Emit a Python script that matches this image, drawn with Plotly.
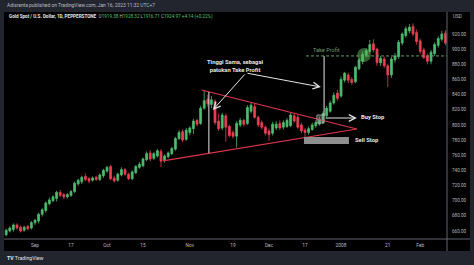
import pandas as pd
import plotly.graph_objects as go

# Daily sessions (weekdays, Christmas and New Year closed)
holidays = ["2007-12-25", "2008-01-01"]
sessions = [d for d in pd.bdate_range("2007-08-22", "2008-02-12").strftime("%Y-%m-%d")
            if d not in holidays]

opens = [655, 660, 662, 668, 665, 661, 666, 664, 671, 673, 682, 687, 696, 700, 703, 711,
         708, 705, 707, 712, 722, 725, 732, 729, 727, 731, 728, 733, 739, 745, 730, 727,
         734, 741, 735, 729, 737, 744, 746, 754, 763, 756, 759, 765, 753, 758, 762, 768,
         782, 791, 781, 790, 795, 806, 802, 822, 834, 827, 831, 805, 796, 812, 798, 790,
         785, 800, 806, 802, 818, 824, 810, 803, 797, 792, 789, 796, 802, 797, 798, 799,
         812, 810, 800, 793, 790, 794, 799, 801, 803, 812, 818, 829, 842, 838, 859, 866,
         860, 857, 874, 884, 892, 897, 907, 900, 882, 887, 878, 866, 886, 890, 908, 918,
         924, 930, 922, 911, 899, 891, 884, 894, 905, 913, 921]
highs = [663, 666, 670, 670, 667, 667, 668, 673, 676, 684, 690, 699, 704, 707, 713, 714,
         710, 710, 714, 725, 729, 733, 736, 731, 732, 733, 736, 742, 746, 747, 733, 737,
         744, 743, 737, 740, 747, 751, 757, 765, 767, 764, 768, 768, 761, 765, 771, 784,
         793, 794, 796, 798, 808, 808, 825, 846, 840, 838, 834, 815, 816, 815, 800, 793,
         805, 809, 808, 826, 829, 828, 812, 806, 799, 795, 804, 805, 806, 806, 809, 816,
         815, 813, 803, 796, 798, 803, 806, 811, 818, 825, 832, 843, 846, 864, 870, 869,
         863, 878, 888, 897, 901, 912, 913, 902, 891, 890, 880, 890, 895, 912, 922, 930,
         933, 934, 926, 914, 902, 894, 899, 909, 917, 924, 925]
lows = [653, 658, 659, 662, 658, 659, 661, 662, 668, 670, 679, 684, 694, 698, 699, 705,
        702, 703, 705, 710, 720, 722, 726, 723, 725, 726, 726, 730, 737, 727, 724, 725,
        732, 733, 727, 727, 735, 742, 744, 752, 752, 754, 757, 744, 750, 756, 760, 766,
        780, 777, 779, 786, 788, 798, 800, 820, 824, 822, 800, 792, 793, 778, 784, 782,
        770, 797, 798, 800, 815, 808, 797, 794, 786, 779, 786, 793, 793, 794, 796, 797,
        803, 795, 789, 784, 787, 792, 796, 799, 801, 810, 816, 827, 832, 836, 856, 855,
        853, 855, 872, 880, 889, 894, 896, 878, 878, 875, 850, 862, 882, 887, 905, 915,
        921, 917, 906, 894, 887, 880, 880, 891, 902, 910, 905]
closes = [661, 664, 668, 664, 660, 665, 663, 671, 674, 682, 688, 697, 701, 705, 711, 707,
          705, 708, 712, 723, 727, 731, 728, 726, 730, 728, 734, 740, 744, 729, 726, 735,
          741, 735, 729, 738, 745, 748, 755, 762, 755, 762, 766, 752, 759, 763, 769, 782,
          790, 780, 793, 796, 805, 801, 822, 832, 828, 833, 803, 795, 813, 797, 786, 785,
          802, 806, 801, 823, 826, 810, 800, 797, 789, 787, 801, 801, 796, 803, 806, 813,
          805, 797, 792, 790, 795, 800, 803, 807, 815, 822, 829, 839, 835, 860, 868, 859,
          856, 876, 886, 893, 898, 906, 899, 882, 888, 878, 866, 887, 891, 909, 920, 927,
          929, 920, 910, 897, 889, 884, 896, 906, 914, 920, 908]

tick_dates = ["2007-09-03", "2007-09-17", "2007-10-01", "2007-10-15", "2007-11-01",
              "2007-11-19", "2007-12-03", "2007-12-17", "2008-01-02", "2008-01-21",
              "2008-02-01"]
tick_labels = ["Sep", "17", "Oct", "15", "Nov", "19", "Dec", "17", "2008", "21", "Feb"]
price_ticks = [660, 680, 700, 720, 740, 760, 780, 800, 820, 840, 860, 880, 900, 920]

UP = "#4dbd6e"
DOWN = "#ec3f55"
FRAME = "#22252e"
AXIS_TEXT = "#b8bbc4"
SEP = "#62656f"
WHITE = "#e6e6e6"
TRI = "#e0354b"
TP = "#6e9a6e"

xpos = list(range(len(sessions)))
tick_pos = [sessions.index(d) for d in tick_dates]

fig = go.Figure(go.Candlestick(
    x=xpos, open=opens, high=highs, low=lows, close=closes,
    increasing=dict(line=dict(color=UP, width=0.8), fillcolor=UP),
    decreasing=dict(line=dict(color=DOWN, width=0.8), fillcolor=DOWN),
    hoverinfo="skip", showlegend=False,
))

W, H = 474, 265
L, R, T, B = 4, 27, 12, 26
pw, ph = W - L - R, H - T - B


def px(xp):
    return (xp - L) / pw


def py(yp):
    return (H - B - yp) / ph


shapes = [
    # black chart panel incl. both axis strips
    dict(type="rect", xref="paper", yref="paper", x0=0, x1=px(470), y0=py(251), y1=1,
         fillcolor="black", line_width=0, layer="below"),
    dict(type="line", xref="paper", yref="paper", x0=1, x1=1, y0=py(251), y1=1,
         line=dict(color=SEP, width=1)),
    dict(type="line", xref="paper", yref="paper", x0=0, x1=px(470), y0=0, y1=0,
         line=dict(color=SEP, width=1)),
    # symmetrical triangle
    dict(type="line", x0=54.3, y0=846.1, x1=97.4, y1=794.6, line=dict(color=TRI, width=1.2)),
    dict(type="line", x0=43.6, y0=752.4, x1=97.4, y1=794.6, line=dict(color=TRI, width=1.2)),
    # triangle height, and the same height projected from the breakout
    dict(type="line", x0=56.3, y0=843.4, x1=56.3, y1=762.9, line=dict(color=WHITE, width=1)),
    dict(type="line", x0=88.3, y0=891.0, x1=88.3, y1=811.8, line=dict(color=WHITE, width=1)),
    # take profit level
    dict(type="line", x0=83.3, y0=891.0, x1=122.6, y1=891.0,
         line=dict(color=TP, width=1, dash="3px,2px")),
    dict(type="circle", x0=97.5, x1=101.3, y0=883.0, y1=901.5,
         fillcolor="rgba(90,190,90,0.5)", line_width=0),
    # buy stop / sell stop boxes
    dict(type="rect", x0=86.3, x1=88.3, y0=802.5, y1=813.1,
         fillcolor="rgba(160,160,160,0.35)", line=dict(color="rgba(170,170,170,0.8)", width=1)),
    dict(type="rect", x0=82.7, x1=95.2, y0=774.8, y1=784.1,
         fillcolor="#8e8e8e", line_width=0),
]

ann_font = dict(family="Roboto", color=WHITE)
annotations = [
    dict(xref="paper", yref="paper", x=px(5), y=py(5), xanchor="left", yanchor="middle",
         showarrow=False, font=dict(family="Roboto", size=4.9, color=AXIS_TEXT),
         text="Adisranta published on TradingView.com, Jan 16, 2023 11:32 UTC+7"),
    dict(xref="paper", yref="paper", x=px(7), y=py(16), xanchor="left", yanchor="middle",
         showarrow=False, font=dict(family="Roboto", size=4.6, color=WHITE),
         text=("<b>Gold Spot / U.S. Dollar, 1D, PEPPERSTONE</b>"
               "  <span style='color:#b2b5be'>O</span><span style='color:#53c06f'>1919.38</span>"
               " <span style='color:#b2b5be'>H</span><span style='color:#53c06f'>1928.32</span>"
               " <span style='color:#b2b5be'>L</span><span style='color:#53c06f'>1916.71</span>"
               " <span style='color:#b2b5be'>C</span><span style='color:#53c06f'>1924.97</span>"
               " <span style='color:#53c06f'>+4.14 (+0.22%)</span>")),
    dict(xref="paper", yref="paper", x=px(457), y=py(16), xanchor="center", yanchor="middle",
         showarrow=False, font=dict(family="Roboto", size=4.6, color=AXIS_TEXT), text="USD"),
    dict(xref="paper", yref="paper", x=px(5), y=py(258), xanchor="left", yanchor="middle",
         showarrow=False, font=dict(family="Roboto", size=5.2, color=WHITE),
         text="<b>TV</b> TradingView"),
    # drawing labels
    dict(x=63.6, y=878.0, showarrow=False, xanchor="center", yanchor="middle",
         font=dict(ann_font, size=5.8), text="<b>Tinggi Sama, sebagai<br>patokan Take Profit</b>"),
    dict(x=89.1, y=898.9, showarrow=False, xanchor="center", yanchor="middle",
         font=dict(family="Roboto", size=5.6, color=TP), text="Take Profit"),
    dict(x=98.0, y=810.5, showarrow=False, xanchor="left", yanchor="middle",
         font=dict(ann_font, size=5.8), text="<b>Buy Stop</b>"),
    dict(x=96.3, y=780.1, showarrow=False, xanchor="left", yanchor="middle",
         font=dict(ann_font, size=5.8), text="<b>Sell Stop</b>"),
    # arrows
    dict(x=57.4, y=819.7, ax=66.6, ay=868.5, axref="x", ayref="y", text="", showarrow=True,
         arrowhead=5, arrowsize=1.3, arrowwidth=1, arrowcolor=WHITE),
    dict(x=87.4, y=850.0, ax=66.6, ay=868.5, axref="x", ayref="y", text="", showarrow=True,
         arrowhead=5, arrowsize=1.3, arrowwidth=1, arrowcolor=WHITE),
    dict(x=97.4, y=809.1, ax=88.3, ay=809.1, axref="x", ayref="y", text="", showarrow=True,
         arrowhead=5, arrowsize=1.3, arrowwidth=1, arrowcolor=WHITE),
]

fig.update_layout(
    width=W, height=H,
    margin=dict(l=L, r=R, t=T, b=B, pad=0),
    paper_bgcolor=FRAME, plot_bgcolor="black",
    boxgap=0.25,
    shapes=shapes, annotations=annotations,
    xaxis=dict(range=[-0.61, 122.44], tickvals=tick_pos, ticktext=tick_labels,
               showgrid=False, zeroline=False, showline=False, ticks="",
               tickfont=dict(family="Roboto", size=4.8, color=AXIS_TEXT),
               ticklabelstandoff=2, rangeslider=dict(visible=False), fixedrange=True),
    yaxis=dict(range=[649.4, 949.0], side="right", tickvals=price_ticks,
               ticktext=[f"{v:.2f}" for v in price_ticks],
               showgrid=False, zeroline=False, showline=False, ticks="",
               tickfont=dict(family="Roboto", size=4.6, color=AXIS_TEXT),
               ticklabelstandoff=4, fixedrange=True),
)

fig.write_html("out.html")
